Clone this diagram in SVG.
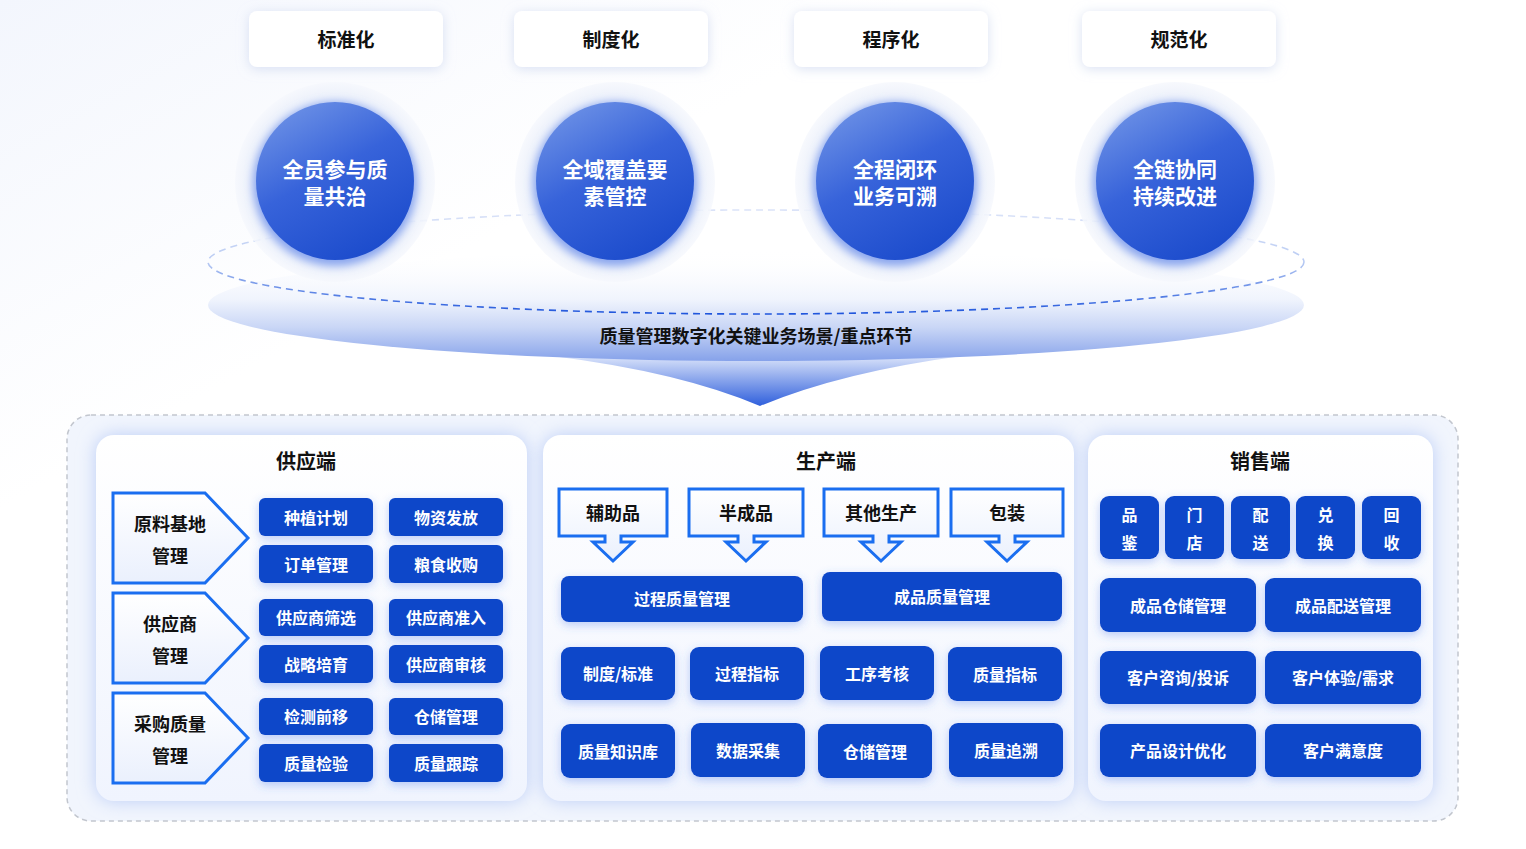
<svg xmlns="http://www.w3.org/2000/svg" width="1526" height="849" viewBox="0 0 1526 849">
<defs>
<style>
.t{font-family:"Noto Sans CJK SC","Noto Sans",sans-serif;font-weight:700;text-anchor:middle;dominant-baseline:central}
.w{fill:#ffffff;font-size:16px}
.k{fill:#111111}
.btn{fill:#0f47c9;filter:url(#bs)}
.pent{fill:url(#pentG);stroke:#1a6ef0;stroke-width:3}
.card{fill:#ffffff;filter:url(#cs)}
.panel{fill:url(#panelG)}
.pshadow{fill:#bccdf6;filter:url(#blur8)}
</style>
<filter id="bs" x="-30%" y="-40%" width="160%" height="190%"><feDropShadow dx="0" dy="3" stdDeviation="5" flood-color="#3f72ea" flood-opacity="0.35"/></filter>
<filter id="cs" x="-20%" y="-50%" width="140%" height="200%"><feDropShadow dx="0" dy="2" stdDeviation="6" flood-color="#c9d4ee" flood-opacity="0.7"/></filter>
<filter id="blur8" x="-20%" y="-20%" width="140%" height="140%"><feGaussianBlur stdDeviation="9"/></filter>
<filter id="blur4" x="-30%" y="-30%" width="160%" height="160%"><feGaussianBlur stdDeviation="4"/></filter>
<linearGradient id="pentG" x1="0" y1="0" x2="0" y2="1"><stop offset="0" stop-color="#ffffff"/><stop offset="1" stop-color="#eaf0fd"/></linearGradient>
<linearGradient id="panelG" x1="0" y1="0" x2="0" y2="1"><stop offset="0" stop-color="#ffffff"/><stop offset="1" stop-color="#f0f4fe"/></linearGradient>
<linearGradient id="ballG" x1="0.2" y1="0" x2="0.75" y2="1"><stop offset="0" stop-color="#6e92e6"/><stop offset="0.45" stop-color="#3763da"/><stop offset="1" stop-color="#1a4acb"/></linearGradient>
<radialGradient id="haloG" cx="0.5" cy="0.5" r="0.5"><stop offset="0.7" stop-color="#dfe7f9"/><stop offset="0.9" stop-color="#eef2fb"/><stop offset="1" stop-color="#f6f8fd"/></radialGradient>
<linearGradient id="platG" x1="0" y1="0" x2="0" y2="1"><stop offset="0" stop-color="#ffffff" stop-opacity="0"/><stop offset="0.45" stop-color="#f0f4fd"/><stop offset="0.7" stop-color="#c9d6f6"/><stop offset="1" stop-color="#86a2ea"/></linearGradient>
<linearGradient id="funG" x1="0" y1="0" x2="0" y2="1"><stop offset="0" stop-color="#dbe4fa"/><stop offset="1" stop-color="#2f5fdc"/></linearGradient>
<linearGradient id="dashG" gradientUnits="userSpaceOnUse" x1="0" y1="210" x2="0" y2="314"><stop offset="0" stop-color="#dbe3f8"/><stop offset="0.5" stop-color="#b9cbf3"/><stop offset="1" stop-color="#1f55dc"/></linearGradient>
<linearGradient id="bgG" x1="0" y1="0" x2="1" y2="1"><stop offset="0" stop-color="#f3f6fd"/><stop offset="0.3" stop-color="#ffffff"/></linearGradient>
</defs>
<rect x="0" y="0" width="1526" height="849" fill="url(#bgG)"/>

<!-- platform and funnel -->
<g id="connectors">
<path d="M552 356 Q680 372 760 406 Q842 372 962 356 Z" fill="url(#funG)"/>
<ellipse cx="756" cy="305" rx="548" ry="56" fill="url(#platG)"/>
<ellipse cx="756" cy="262" rx="548" ry="52" fill="none" stroke="url(#dashG)" stroke-width="1.6" stroke-dasharray="7 5"/>
</g>
<text class="t k" x="756" y="335" font-size="18">质量管理数字化关键业务场景/重点环节</text>

<!-- top labels -->
<g id="lbl-biaozhun"><rect class="card" x="249" y="11" width="194" height="56" rx="8"/><text class="t k" x="346" y="38" font-size="19">标准化</text></g>
<g id="lbl-zhidu"><rect class="card" x="514" y="11" width="194" height="56" rx="8"/><text class="t k" x="611" y="38" font-size="19">制度化</text></g>
<g id="lbl-chengxu"><rect class="card" x="794" y="11" width="194" height="56" rx="8"/><text class="t k" x="891" y="38" font-size="19">程序化</text></g>
<g id="lbl-guifan"><rect class="card" x="1082" y="11" width="194" height="56" rx="8"/><text class="t k" x="1179" y="38" font-size="19">规范化</text></g>

<!-- circles -->
<g id="ball-1"><circle cx="335" cy="182" r="100" fill="url(#haloG)" opacity="0.85"/><circle cx="335" cy="184" r="82" fill="#8aa6ee" filter="url(#blur4)"/><circle cx="335" cy="181" r="79" fill="url(#ballG)"/><text class="t" fill="#fff" font-size="21" x="335" y="168">全员参与质</text><text class="t" fill="#fff" font-size="21" x="335" y="195">量共治</text></g>
<g id="ball-2"><circle cx="615" cy="182" r="100" fill="url(#haloG)" opacity="0.85"/><circle cx="615" cy="184" r="82" fill="#8aa6ee" filter="url(#blur4)"/><circle cx="615" cy="181" r="79" fill="url(#ballG)"/><text class="t" fill="#fff" font-size="21" x="615" y="168">全域覆盖要</text><text class="t" fill="#fff" font-size="21" x="615" y="195">素管控</text></g>
<g id="ball-3"><circle cx="895" cy="182" r="100" fill="url(#haloG)" opacity="0.85"/><circle cx="895" cy="184" r="82" fill="#8aa6ee" filter="url(#blur4)"/><circle cx="895" cy="181" r="79" fill="url(#ballG)"/><text class="t" fill="#fff" font-size="21" x="895" y="168">全程闭环</text><text class="t" fill="#fff" font-size="21" x="895" y="195">业务可溯</text></g>
<g id="ball-4"><circle cx="1175" cy="182" r="100" fill="url(#haloG)" opacity="0.85"/><circle cx="1175" cy="184" r="82" fill="#8aa6ee" filter="url(#blur4)"/><circle cx="1175" cy="181" r="79" fill="url(#ballG)"/><text class="t" fill="#fff" font-size="21" x="1175" y="168">全链协同</text><text class="t" fill="#fff" font-size="21" x="1175" y="195">持续改进</text></g>

<!-- bottom container -->
<rect x="67" y="415" width="1391" height="406" rx="24" fill="#f1f5fd" stroke="#c2c6ce" stroke-width="1.5" stroke-dasharray="5 4"/>
<rect class="pshadow" x="96" y="435" width="431" height="366" rx="18"/>
<rect class="pshadow" x="543" y="435" width="531" height="366" rx="18"/>
<rect class="pshadow" x="1088" y="435" width="345" height="366" rx="18"/>

<!-- supply panel -->
<g id="panel-supply">
<rect class="panel" x="96" y="435" width="431" height="366" rx="18"/>
<text class="t k" x="306" y="460" font-size="20">供应端</text>
<g id="s-raw"><path class="pent" d="M113 493 L205 493 L248 538 L205 583 L113 583 Z"/><text class="t k" font-size="18"><tspan x="170" y="523">原料基地</tspan><tspan x="170" y="555">管理</tspan></text></g>
<g id="s-sup"><path class="pent" d="M113 593 L205 593 L248 638 L205 683 L113 683 Z"/><text class="t k" font-size="18"><tspan x="170" y="623">供应商</tspan><tspan x="170" y="655">管理</tspan></text></g>
<g id="s-buy"><path class="pent" d="M113 693 L205 693 L248 738 L205 783 L113 783 Z"/><text class="t k" font-size="18"><tspan x="170" y="723">采购质量</tspan><tspan x="170" y="755">管理</tspan></text></g>
<g id="s1"><rect class="btn" x="259" y="498" width="114" height="38" rx="6"/><text class="t w" x="316" y="516.5">种植计划</text></g>
<g id="s2"><rect class="btn" x="389" y="498" width="114" height="38" rx="6"/><text class="t w" x="446" y="516.5">物资发放</text></g>
<g id="s3"><rect class="btn" x="259" y="545" width="114" height="38" rx="6"/><text class="t w" x="316" y="563.5">订单管理</text></g>
<g id="s4"><rect class="btn" x="389" y="545" width="114" height="38" rx="6"/><text class="t w" x="446" y="563.5">粮食收购</text></g>
<g id="s5"><rect class="btn" x="259" y="599" width="114" height="37" rx="6"/><text class="t w" x="316" y="617">供应商筛选</text></g>
<g id="s6"><rect class="btn" x="389" y="599" width="114" height="37" rx="6"/><text class="t w" x="446" y="617">供应商准入</text></g>
<g id="s7"><rect class="btn" x="259" y="645" width="114" height="38" rx="6"/><text class="t w" x="316" y="663.5">战略培育</text></g>
<g id="s8"><rect class="btn" x="389" y="645" width="114" height="38" rx="6"/><text class="t w" x="446" y="663.5">供应商审核</text></g>
<g id="s9"><rect class="btn" x="259" y="698" width="114" height="37" rx="6"/><text class="t w" x="316" y="716">检测前移</text></g>
<g id="s10"><rect class="btn" x="389" y="698" width="114" height="37" rx="6"/><text class="t w" x="446" y="716">仓储管理</text></g>
<g id="s11"><rect class="btn" x="259" y="744" width="114" height="38" rx="6"/><text class="t w" x="316" y="762.5">质量检验</text></g>
<g id="s12"><rect class="btn" x="389" y="744" width="114" height="38" rx="6"/><text class="t w" x="446" y="762.5">质量跟踪</text></g>
</g>

<!-- production panel -->
<g id="panel-prod">
<rect class="panel" x="543" y="435" width="531" height="366" rx="18"/>
<text class="t k" x="826" y="460" font-size="20">生产端</text>
<g id="p-aux"><path class="pent" d="M559 489 H667 V536 H621 V542 H633 L613 561 L593 542 H605 V536 H559 Z"/><text class="t k" x="613" y="512" font-size="18">辅助品</text></g>
<g id="p-semi"><path class="pent" d="M689 489 H803 V536 H754 V542 H766 L746 561 L726 542 H738 V536 H689 Z"/><text class="t k" x="746" y="512" font-size="18">半成品</text></g>
<g id="p-other"><path class="pent" d="M824 489 H938 V536 H889 V542 H901 L881 561 L861 542 H873 V536 H824 Z"/><text class="t k" x="881" y="512" font-size="18">其他生产</text></g>
<g id="p-pack"><path class="pent" d="M951 489 H1063 V536 H1015 V542 H1027 L1007 561 L987 542 H999 V536 H951 Z"/><text class="t k" x="1007" y="512" font-size="18">包装</text></g>
<g id="p-proc"><rect class="btn" x="561" y="576" width="242" height="46" rx="8"/><text class="t w" x="682" y="598">过程质量管理</text></g>
<g id="p-fin"><rect class="btn" x="822" y="572" width="240" height="49" rx="8"/><text class="t w" x="942" y="596">成品质量管理</text></g>
<g id="p1"><rect class="btn" x="561" y="647" width="114" height="53" rx="9"/><text class="t w" x="618" y="673">制度/标准</text></g>
<g id="p2"><rect class="btn" x="690" y="647" width="114" height="53" rx="9"/><text class="t w" x="747" y="673">过程指标</text></g>
<g id="p3"><rect class="btn" x="820" y="646" width="114" height="54" rx="9"/><text class="t w" x="877" y="673">工序考核</text></g>
<g id="p4"><rect class="btn" x="948" y="647" width="114" height="54" rx="9"/><text class="t w" x="1005" y="674">质量指标</text></g>
<g id="p5"><rect class="btn" x="561" y="724" width="114" height="54" rx="9"/><text class="t w" x="618" y="751">质量知识库</text></g>
<g id="p6"><rect class="btn" x="691" y="723" width="114" height="54" rx="9"/><text class="t w" x="748" y="750">数据采集</text></g>
<g id="p7"><rect class="btn" x="818" y="724" width="114" height="54" rx="9"/><text class="t w" x="875" y="751">仓储管理</text></g>
<g id="p8"><rect class="btn" x="949" y="723" width="114" height="54" rx="9"/><text class="t w" x="1006" y="750">质量追溯</text></g>
</g>

<!-- sales panel -->
<g id="panel-sales">
<rect class="panel" x="1088" y="435" width="345" height="366" rx="18"/>
<text class="t k" x="1260" y="460" font-size="20">销售端</text>
<g id="q1"><rect class="btn" x="1100" y="496" width="59" height="63" rx="9"/><text class="t w"><tspan x="1129.5" y="514">品</tspan><tspan x="1129.5" y="542">鉴</tspan></text></g>
<g id="q2"><rect class="btn" x="1165" y="496" width="59" height="63" rx="9"/><text class="t w"><tspan x="1194.5" y="514">门</tspan><tspan x="1194.5" y="542">店</tspan></text></g>
<g id="q3"><rect class="btn" x="1231" y="496" width="59" height="63" rx="9"/><text class="t w"><tspan x="1260.5" y="514">配</tspan><tspan x="1260.5" y="542">送</tspan></text></g>
<g id="q4"><rect class="btn" x="1296" y="496" width="59" height="63" rx="9"/><text class="t w"><tspan x="1325.5" y="514">兑</tspan><tspan x="1325.5" y="542">换</tspan></text></g>
<g id="q5"><rect class="btn" x="1362" y="496" width="59" height="63" rx="9"/><text class="t w"><tspan x="1391.5" y="514">回</tspan><tspan x="1391.5" y="542">收</tspan></text></g>
<g id="q6"><rect class="btn" x="1100" y="578" width="156" height="54" rx="9"/><text class="t w" x="1178" y="605">成品仓储管理</text></g>
<g id="q7"><rect class="btn" x="1265" y="578" width="156" height="54" rx="9"/><text class="t w" x="1343" y="605">成品配送管理</text></g>
<g id="q8"><rect class="btn" x="1100" y="651" width="156" height="53" rx="9"/><text class="t w" x="1178" y="677">客户咨询/投诉</text></g>
<g id="q9"><rect class="btn" x="1265" y="651" width="156" height="53" rx="9"/><text class="t w" x="1343" y="677">客户体验/需求</text></g>
<g id="q10"><rect class="btn" x="1100" y="724" width="156" height="53" rx="9"/><text class="t w" x="1178" y="750">产品设计优化</text></g>
<g id="q11"><rect class="btn" x="1265" y="724" width="156" height="53" rx="9"/><text class="t w" x="1343" y="750">客户满意度</text></g>
</g>
</svg>
